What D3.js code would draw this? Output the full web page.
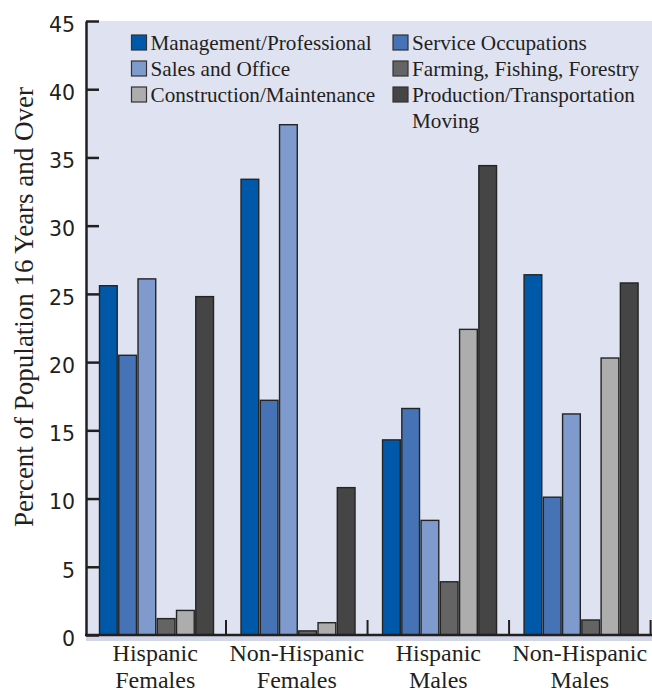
<!DOCTYPE html>
<html>
<head>
<meta charset="utf-8">
<script src="https://cdn.jsdelivr.net/npm/d3@7"></script>
<style>
  body { margin: 0; background: #fff; }
  svg { display: block; }
</style>
</head>
<body>
<svg id="chart" width="652" height="694"></svg>
<script>
// groups along the x axis (two text lines each)
var groups = [["Hispanic", "Females"], ["Non-Hispanic", "Females"], ["Hispanic", "Males"], ["Non-Hispanic", "Males"]];
var seriesNames = ["Management/Professional", "Service Occupations", "Sales and Office",
                   "Farming, Fishing, Forestry", "Construction/Maintenance", "Production/Transportation Moving"];
var management   = [25.6, 33.4, 14.3, 26.4];
var service      = [20.5, 17.2, 16.6, 10.1];
var salesOffice  = [26.1, 37.4, 8.4, 16.2];
var farming      = [1.2, 0.3, 3.9, 1.1];
var construction = [1.8, 0.9, 22.4, 20.3];
var production   = [24.8, 10.8, 34.4, 25.8];
var yTicks = [0, 5, 10, 15, 20, 25, 30, 35, 40, 45];

var seriesValues = [management, service, salesOffice, farming, construction, production];
var colors = ["#0059a8", "#4573b6", "#7f9bcd", "#646464", "#adadad", "#454545"];

var svg = d3.select("#chart");
var axisColor = "#231f20";
var serif = "'Liberation Serif', 'Times New Roman', serif";

var y = d3.scaleLinear().domain([0, 45]).range([635, 21]);
var x = d3.scaleBand().domain(d3.range(groups.length)).range([84.5, 650.6]).padding(0);
var xInner = d3.scaleBand().domain(d3.range(seriesNames.length)).range([15, 129]).paddingInner(0.08);

// plot background
svg.append("rect")
    .attr("x", 86).attr("y", y(45))
    .attr("width", 652 - 86).attr("height", y(0) - y(45))
    .attr("fill", "#dfe2f1");

// pale strip under the x axis
svg.append("rect")
    .attr("x", 86).attr("y", y(0) + 1)
    .attr("width", 652 - 86).attr("height", 5)
    .attr("fill", "#d3d6e6");

// bars
var rows = [];
groups.forEach(function (g, gi) {
    seriesValues.forEach(function (vals, si) {
        rows.push({ g: gi, s: si, v: vals[gi] });
    });
});

svg.append("g").selectAll("rect")
    .data(rows)
    .enter().append("rect")
    .attr("x", function (d) { return x(d.g) + xInner(d.s); })
    .attr("y", function (d) { return y(d.v); })
    .attr("width", xInner.bandwidth())
    .attr("height", function (d) { return y(0) - y(d.v); })
    .attr("fill", function (d) { return colors[d.s]; })
    .attr("stroke", "#242424")
    .attr("stroke-width", 1.4);

// y axis
var yAxis = svg.append("g")
    .attr("transform", "translate(86,0)")
    .call(d3.axisLeft(y).tickValues(yTicks).tickSizeInner(-13).tickSizeOuter(0).tickPadding(11));
yAxis.select(".domain").attr("stroke", axisColor).attr("stroke-width", 2.5);
yAxis.selectAll(".tick line").attr("stroke", axisColor).attr("stroke-width", 2.5);
yAxis.selectAll(".tick text")
    .attr("dy", "0.5em")
    .attr("fill", axisColor)
    .style("font-family", "'DejaVu Sans', sans-serif")
    .style("font-size", "20.5px");

// x axis line
svg.append("line")
    .attr("x1", 85).attr("x2", 652)
    .attr("y1", y(0)).attr("y2", y(0))
    .attr("stroke", axisColor).attr("stroke-width", 2.5);

// small separators between groups
svg.append("g").selectAll("line")
    .data(d3.range(groups.length))
    .enter().append("line")
    .attr("x1", function (d) { return x(d) + x.bandwidth(); })
    .attr("x2", function (d) { return x(d) + x.bandwidth(); })
    .attr("y1", y(0)).attr("y2", y(0) - 15)
    .attr("stroke", axisColor).attr("stroke-width", 2);

// group labels
var labels = svg.append("g").selectAll("text")
    .data(groups)
    .enter().append("text")
    .attr("text-anchor", "middle")
    .attr("fill", axisColor)
    .style("font-family", serif)
    .style("font-size", "24px");
labels.append("tspan")
    .attr("x", function (d, i) { return x(i) + x.bandwidth() / 2; })
    .attr("y", 661)
    .text(function (d) { return d[0]; });
labels.append("tspan")
    .attr("x", function (d, i) { return x(i) + x.bandwidth() / 2; })
    .attr("y", 688)
    .text(function (d) { return d[1]; });

// y axis title
svg.append("text")
    .attr("transform", "translate(33,307) rotate(-90)")
    .attr("text-anchor", "middle")
    .attr("fill", axisColor)
    .style("font-family", serif)
    .style("font-size", "27px")
    .text("Percent of Population 16 Years and Over");

// legend, two columns
var legendPos = [[131.5, 35], [393, 35], [131.5, 61], [393, 61], [131.5, 87], [393, 87]];
var legendOrder = [0, 1, 2, 3, 4, 5];
var legend = svg.append("g").selectAll("g")
    .data(legendOrder)
    .enter().append("g")
    .attr("transform", function (d, i) { return "translate(" + legendPos[i][0] + "," + legendPos[i][1] + ")"; });

legend.append("rect")
    .attr("width", 15).attr("height", 15)
    .attr("fill", function (d) { return colors[d]; })
    .attr("stroke", "#333").attr("stroke-width", 1.2);

legend.append("text")
    .attr("x", 19).attr("y", 14.5)
    .attr("fill", axisColor)
    .style("font-family", serif)
    .style("font-size", "21.2px")
    .each(function (d) {
        var words = seriesNames[d] === "Production/Transportation Moving"
            ? ["Production/Transportation", "Moving"] : [seriesNames[d]];
        var t = d3.select(this);
        words.forEach(function (w, k) {
            t.append("tspan").attr("x", 19).attr("dy", k === 0 ? 0 : 26).text(w);
        });
    });
</script>
</body>
</html>
